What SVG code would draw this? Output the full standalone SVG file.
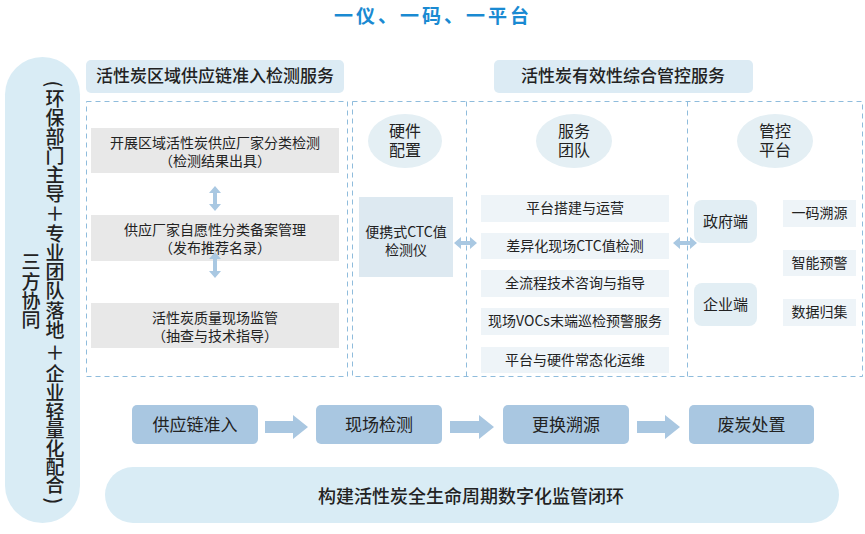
<svg xmlns="http://www.w3.org/2000/svg" width="865" height="534" viewBox="0 0 865 534">
<defs>
<style>
text{font-family:"Noto Sans CJK SC","Noto Sans",sans-serif;fill:#222;text-anchor:middle}
.title{font-size:19px;font-weight:bold;fill:#1a8ad2;letter-spacing:3px}
.hdr{fill:#dcebf4}
.hdrt{font-size:17px;font-weight:500}
.dash{fill:none;stroke:#8fbcdc;stroke-width:1;stroke-dasharray:5 4}
.grey{fill:#e8e8e8}
.t14{font-size:14px}
.t15{font-size:15px}
.t16{font-size:16px}
.ell{fill:#e4eff4}
.lb{fill:#dde9f1}
.mid{fill:#eef4f8}
.end{fill:#e2eef4}
.proc{fill:#a9c7e1}
.pt{font-size:17px}
.arr{fill:#a9c7e1}
.darr{fill:#a9c8e2}
.pill{fill:#d9ecf5}
.vt{font-size:19px;font-weight:500;dominant-baseline:central}
</style>
</defs>
<g id="title"><text class="title" x="433" y="23">一仪、一码、一平台</text></g>

<g id="side-pill">
<rect class="pill" x="5" y="57" width="75" height="466" rx="37.5"/>
<text class="vt" x="55" y="84" transform="rotate(90 55 84)">(</text>
<text class="vt"><tspan x="55" y="97">环</tspan><tspan x="55" y="116">保</tspan><tspan x="55" y="135">部</tspan><tspan x="55" y="154">门</tspan><tspan x="55" y="173">主</tspan><tspan x="55" y="192">导</tspan><tspan x="55" y="212">＋</tspan><tspan x="55" y="232">专</tspan><tspan x="55" y="251">业</tspan><tspan x="55" y="270">团</tspan><tspan x="55" y="289">队</tspan><tspan x="55" y="309">落</tspan><tspan x="55" y="328">地</tspan><tspan x="55" y="351">＋</tspan><tspan x="55" y="372">企</tspan><tspan x="55" y="391">业</tspan><tspan x="55" y="410">轻</tspan><tspan x="55" y="428">量</tspan><tspan x="55" y="447">化</tspan><tspan x="55" y="465">配</tspan><tspan x="55" y="483">合</tspan></text>
<text class="vt" x="55" y="501" transform="rotate(90 55 501)">)</text>
<text class="vt"><tspan x="31" y="260">三</tspan><tspan x="31" y="280">方</tspan><tspan x="31" y="299">协</tspan><tspan x="31" y="318">同</tspan></text>
</g>

<g id="hdr-left"><rect class="hdr" x="86" y="60" width="258" height="33" rx="5"/><text class="hdrt" x="215" y="82">活性炭区域供应链准入检测服务</text></g>
<g id="hdr-right"><rect class="hdr" x="494" y="60" width="259" height="33" rx="5"/><text class="hdrt" x="623" y="82">活性炭有效性综合管控服务</text></g>

<g id="frames">
<rect class="dash" x="86.5" y="101.5" width="261" height="275"/>
<rect class="dash" x="352.5" y="101.5" width="510" height="275"/>
<line class="dash" x1="466.5" y1="101.5" x2="466.5" y2="376.5"/>
<line class="dash" x1="687.5" y1="101.5" x2="687.5" y2="376.5"/>
</g>

<g id="left-1"><rect class="grey" x="91" y="128" width="248" height="45"/><text class="t14" x="215" y="148">开展区域活性炭供应厂家分类检测</text><text class="t14" x="215" y="166">（检测结果出具）</text></g>
<g id="left-2"><rect class="grey" x="91" y="215" width="248" height="46"/><text class="t14" x="215" y="235">供应厂家自愿性分类备案管理</text><text class="t14" x="215" y="253">（发布推荐名录）</text></g>
<g id="left-3"><rect class="grey" x="91" y="303" width="248" height="45"/><text class="t14" x="215" y="323">活性炭质量现场监管</text><text class="t14" x="215" y="341">（抽查与技术指导）</text></g>

<g id="ell-hw"><ellipse class="ell" cx="405" cy="141" rx="37" ry="27"/><text class="t16" x="405" y="137">硬件</text><text class="t16" x="405" y="156">配置</text></g>
<g id="ell-team"><ellipse class="ell" cx="574" cy="141" rx="38" ry="27"/><text class="t16" x="574" y="137">服务</text><text class="t16" x="574" y="156">团队</text></g>
<g id="ell-plat"><ellipse class="ell" cx="775" cy="141" rx="38" ry="27"/><text class="t16" x="775" y="137">管控</text><text class="t16" x="775" y="156">平台</text></g>

<g id="ctc"><rect class="lb" x="359" y="197" width="94" height="80"/><text class="t14" x="406" y="237">便携式CTC值</text><text class="t14" x="406" y="255">检测仪</text></g>

<g id="svc-1"><rect class="mid" x="481" y="195" width="188" height="27"/><text class="t14" x="575" y="213">平台搭建与运营</text></g>
<g id="svc-2"><rect class="mid" x="481" y="233" width="188" height="26"/><text class="t14" x="575" y="251">差异化现场CTC值检测</text></g>
<g id="svc-3"><rect class="mid" x="481" y="270" width="188" height="27"/><text class="t14" x="575" y="288">全流程技术咨询与指导</text></g>
<g id="svc-4"><rect class="mid" x="481" y="308" width="188" height="27"/><text class="t14" x="575" y="326">现场VOCs末端巡检预警服务</text></g>
<g id="svc-5"><rect class="mid" x="481" y="347" width="188" height="26"/><text class="t14" x="575" y="365">平台与硬件常态化运维</text></g>

<g id="gov"><rect class="end" x="694" y="200" width="63" height="43" rx="8"/><text class="t15" x="725.5" y="227">政府端</text></g>
<g id="ent"><rect class="end" x="694" y="283" width="63" height="43" rx="8"/><text class="t15" x="725.5" y="310">企业端</text></g>

<g id="f-1"><rect class="mid" x="783" y="200" width="73" height="27"/><text class="t14" x="819.5" y="218">一码溯源</text></g>
<g id="f-2"><rect class="mid" x="783" y="250" width="73" height="26"/><text class="t14" x="819.5" y="268">智能预警</text></g>
<g id="f-3"><rect class="mid" x="783" y="299" width="73" height="27"/><text class="t14" x="819.5" y="317">数据归集</text></g>

<g id="p-1"><rect class="proc" x="132" y="405" width="126" height="39" rx="5"/><text class="pt" x="195" y="431">供应链准入</text></g>
<g id="p-2"><rect class="proc" x="316" y="405" width="126" height="39" rx="5"/><text class="pt" x="379" y="431">现场检测</text></g>
<g id="p-3"><rect class="proc" x="503" y="405" width="126" height="39" rx="5"/><text class="pt" x="566" y="431">更换溯源</text></g>
<g id="p-4"><rect class="proc" x="689" y="405" width="125" height="39" rx="5"/><text class="pt" x="751.5" y="431">废炭处置</text></g>

<g id="goal"><rect class="pill" x="105" y="467" width="734" height="56" rx="28"/><text x="471" y="503" style="font-size:18px;font-weight:500">构建活性炭全生命周期数字化监管闭环</text></g>

<g id="connectors">
<path class="darr" d="M215 186 L221 193 L217 193 L217 204 L221 204 L215 211 L209 204 L213 204 L213 193 L209 193 Z"/>
<path class="darr" d="M215 252 L221 259 L217 259 L217 271 L221 271 L215 278 L209 271 L213 271 L213 259 L209 259 Z"/>
<path class="darr" d="M454 243 L461 237 L461 241 L470 241 L470 237 L477 243 L470 249 L470 245 L461 245 L461 249 Z"/>
<path class="darr" d="M673 243 L680 237 L680 241 L690 241 L690 237 L697 243 L690 249 L690 245 L680 245 L680 249 Z"/>
<path class="arr" d="M265 421 L293 421 L293 415 L308 427 L293 439 L293 433 L265 433 Z"/>
<path class="arr" d="M450 421 L479 421 L479 415 L494 427 L479 439 L479 433 L450 433 Z"/>
<path class="arr" d="M637 421 L665 421 L665 415 L680 427 L665 439 L665 433 L637 433 Z"/>
</g>
</svg>
